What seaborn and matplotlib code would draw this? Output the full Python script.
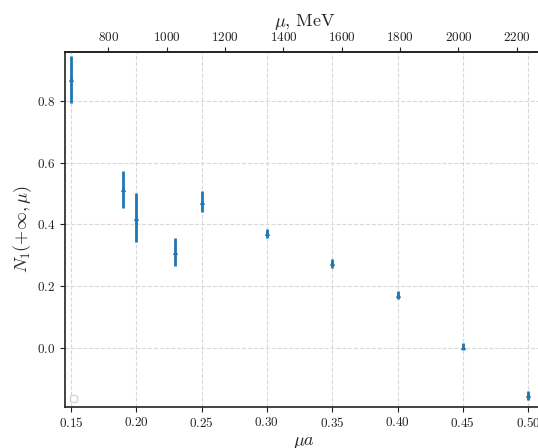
import numpy as np
import pandas as pd
import matplotlib
matplotlib.use("Agg")
import matplotlib.pyplot as plt
import seaborn as sns

# data
mu_a = [0.15, 0.19, 0.20, 0.23, 0.25, 0.30, 0.35, 0.40, 0.45, 0.50]
n1 = [0.871, 0.514, 0.422, 0.310, 0.474, 0.372, 0.274, 0.172, 0.003, -0.155]
n1_err = [0.075, 0.060, 0.080, 0.046, 0.035, 0.015, 0.014, 0.013, 0.011, 0.015]
bottom_ticks = [0.15, 0.20, 0.25, 0.30, 0.35, 0.40, 0.45, 0.50]
left_ticks = [0.0, 0.2, 0.4, 0.6, 0.8]
top_ticks = [800, 1000, 1200, 1400, 1600, 1800, 2000, 2200]
inv_a_mev = 4478.0

df = pd.DataFrame({"mu_a": mu_a, "n1": n1, "err": n1_err})

sns.set_style("ticks")
plt.rcParams["mathtext.fontset"] = "cm"
plt.rcParams["font.family"] = ["DejaVu Serif"]

fig = plt.figure(figsize=(5.38, 4.48), dpi=100)
ax = fig.add_axes([0.1208, 0.0922, 0.89, 0.7924])

ax.grid(True, linestyle="--", color="#d9d9d9", linewidth=0.8)
ax.set_axisbelow(True)

color = "#1f77b4"
ax.errorbar(df["mu_a"], df["n1"], yerr=df["err"], fmt="none",
            ecolor=color, elinewidth=2.0, capsize=0, zorder=3)
sns.scatterplot(data=df, x="mu_a", y="n1", marker="^", s=10, color=color,
                edgecolor=color, linewidth=0.4, ax=ax, zorder=4)

ax.set_xlim(0.1454, 0.512)
ax.set_ylim(-0.1915, 0.961)
ax.set_xticks(bottom_ticks)
ax.set_xticklabels([f"${t:.2f}$" for t in bottom_ticks])
ax.set_yticks(left_ticks)
ax.set_yticklabels([f"${t:.1f}$" for t in left_ticks])
ax.tick_params(labelsize=9.5, length=3.5, width=0.8, colors="#222222")
for s in ax.spines.values():
    s.set_linewidth(1.2)
    s.set_color("#222222")

ax.set_xlabel(r"$\mu a$", fontsize=13, labelpad=2)
ax.set_ylabel(r"$N_1(+\infty,\mu)$", fontsize=13, labelpad=2)

sec = ax.secondary_xaxis("top", functions=(lambda x: x * inv_a_mev,
                                           lambda m: m / inv_a_mev))
sec.set_xticks(top_ticks)
sec.set_xticklabels([f"${t}$" for t in top_ticks])
sec.tick_params(labelsize=9.5, length=3.5, width=0.8, colors="#222222", pad=2)
sec.spines["top"].set_linewidth(1.2)
sec.set_xlabel(r"$\mu,\,\mathrm{MeV}$", fontsize=13, labelpad=4)

leg = ax.legend(handles=[], loc="lower left", frameon=True, fontsize=6,
                borderaxespad=0.6)

fig.savefig("out.png", dpi=100)
